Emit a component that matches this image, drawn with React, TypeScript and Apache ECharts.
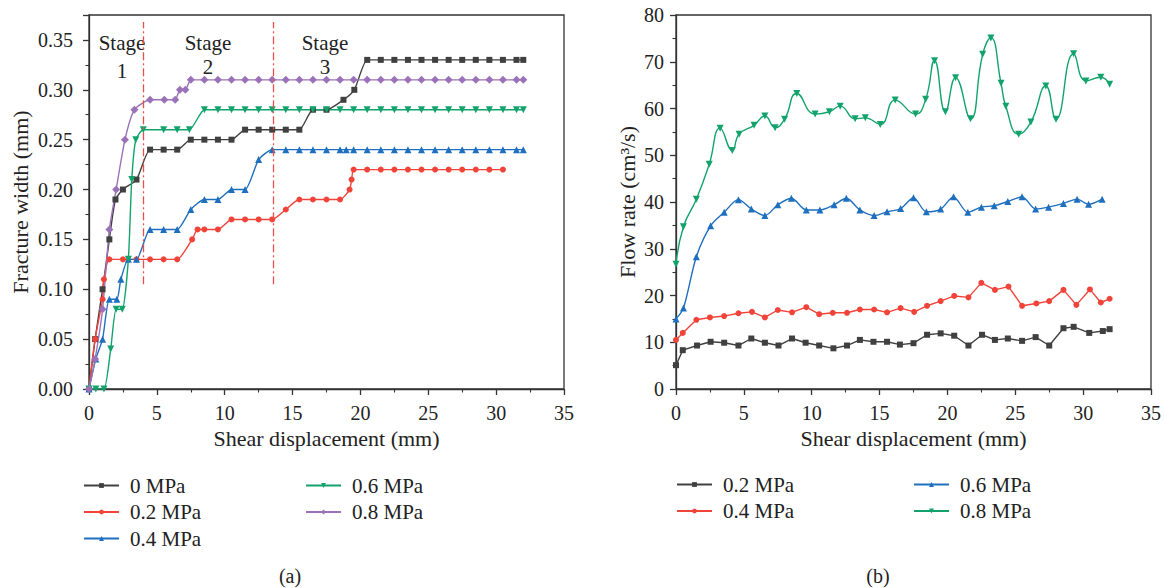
import React, { useEffect, useRef } from "react";
import * as echarts from "echarts";

// ---------- data (a): fracture width (mm) vs shear displacement (mm) ----------
const fw0MPa: [number, number][] = [
  [0, 0], [0.45, 0.05], [1, 0.1], [1.5, 0.15], [1.95, 0.19], [2.5, 0.2], [3.5, 0.21],
  [4.5, 0.24], [5.5, 0.24], [6.5, 0.24], [7.5, 0.25], [8.5, 0.25], [9.5, 0.25], [10.5, 0.25],
  [11.5, 0.26], [12.5, 0.26], [13.5, 0.26], [14.5, 0.26], [15.5, 0.26], [16.5, 0.28], [17.5, 0.28],
  [18.75, 0.29], [19.55, 0.3], [20.5, 0.33], [21.5, 0.33], [22.5, 0.33], [23.5, 0.33], [24.5, 0.33],
  [25.5, 0.33], [26.5, 0.33], [27.5, 0.33], [28.5, 0.33], [29.5, 0.33], [30.5, 0.33], [31.5, 0.33], [32, 0.33],
];
const fw02MPa: [number, number][] = [
  [0, 0], [0.45, 0.05], [1, 0.09], [1.1, 0.11], [1.5, 0.13], [2.5, 0.13], [3.5, 0.13], [4.5, 0.13],
  [5.5, 0.13], [6.5, 0.13], [7.6, 0.15], [8, 0.16], [8.5, 0.16], [9.5, 0.16], [10.5, 0.17], [11.5, 0.17],
  [12.5, 0.17], [13.5, 0.17], [14.5, 0.18], [15.5, 0.19], [16.5, 0.19], [17.5, 0.19], [18.5, 0.19],
  [19.2, 0.2], [19.35, 0.21], [19.5, 0.22], [20.5, 0.22], [21.5, 0.22], [22.5, 0.22], [23.5, 0.22],
  [24.5, 0.22], [25.5, 0.22], [26.5, 0.22], [27.5, 0.22], [28.5, 0.22], [29.5, 0.22], [30.5, 0.22],
];
const fw04MPa: [number, number][] = [
  [0, 0], [0.5, 0.03], [1, 0.05], [1.5, 0.09], [2.05, 0.09], [2.35, 0.11], [2.9, 0.13], [3.5, 0.13],
  [4.5, 0.16], [5.5, 0.16], [6.5, 0.16], [7.5, 0.18], [8.5, 0.19], [9.5, 0.19], [10.5, 0.2], [11.5, 0.2],
  [12.5, 0.23], [13.5, 0.24], [14.5, 0.24], [15.5, 0.24], [16.5, 0.24], [17.5, 0.24], [18.5, 0.24],
  [18.95, 0.24], [19.5, 0.24], [20.5, 0.24], [21.5, 0.24], [22.5, 0.24], [23.5, 0.24], [24.5, 0.24],
  [25.5, 0.24], [26.5, 0.24], [27.5, 0.24], [28.5, 0.24], [29.5, 0.24], [30.5, 0.24], [31.5, 0.24], [32, 0.24],
];
const fw06MPa: [number, number][] = [
  [0, 0], [0.5, 0], [1.1, 0], [1.6, 0.04], [2, 0.08], [2.45, 0.08], [2.9, 0.13], [3.15, 0.21],
  [3.45, 0.25], [4, 0.26], [5.5, 0.26], [6.5, 0.26], [7.4, 0.26], [8.5, 0.28], [9.5, 0.28], [10.5, 0.28],
  [11.5, 0.28], [12.5, 0.28], [13.5, 0.28], [14.5, 0.28], [15.5, 0.28], [16.5, 0.28], [17.5, 0.28],
  [18.5, 0.28], [19.5, 0.28], [20.5, 0.28], [21.5, 0.28], [22.5, 0.28], [23.5, 0.28], [24.5, 0.28],
  [25.5, 0.28], [26.5, 0.28], [27.5, 0.28], [28.5, 0.28], [29.5, 0.28], [30.5, 0.28], [31.5, 0.28], [32, 0.28],
];
const fw08MPa: [number, number][] = [
  [0, 0], [0.45, 0.03], [1, 0.08], [1.5, 0.16], [2, 0.2], [2.65, 0.25], [3.35, 0.28], [4.5, 0.29],
  [5.55, 0.29], [6.35, 0.29], [6.7, 0.3], [7.1, 0.3], [7.5, 0.31], [8.5, 0.31], [9.5, 0.31], [10.5, 0.31],
  [11.5, 0.31], [12.5, 0.31], [13.5, 0.31], [14.5, 0.31], [15.5, 0.31], [16.5, 0.31], [17.5, 0.31],
  [18.5, 0.31], [19.5, 0.31], [20.5, 0.31], [21.5, 0.31], [22.5, 0.31], [23.5, 0.31], [24.5, 0.31],
  [25.5, 0.31], [26.5, 0.31], [27.5, 0.31], [28.5, 0.31], [29.5, 0.31], [30.5, 0.31], [31.5, 0.31], [32, 0.31],
];
const stageBounds = [4, 13.6];
const stageLineRange = [0.105, 0.368];

// ---------- data (b): flow rate (cm3/s) vs shear displacement (mm) ----------
const fr02MPa: [number, number][] = [
  [0, 5.1], [0.5, 8.3], [1.55, 9.3], [2.55, 10.1], [3.55, 9.9], [4.6, 9.3], [5.55, 10.8], [6.55, 9.9],
  [7.55, 9.3], [8.55, 10.8], [9.55, 9.9], [10.55, 9.3], [11.6, 8.7], [12.6, 9.3], [13.55, 10.5],
  [14.55, 10.1], [15.55, 10.1], [16.5, 9.5], [17.5, 9.8], [18.5, 11.6], [19.5, 11.9], [20.5, 11.4],
  [21.55, 9.3], [22.55, 11.6], [23.5, 10.5], [24.45, 10.8], [25.5, 10.3], [26.5, 11.1], [27.5, 9.3],
  [28.55, 13.0], [29.3, 13.3], [30.45, 12.0], [31.45, 12.4], [31.95, 12.8],
];
const fr04MPa: [number, number][] = [
  [0, 10.5], [0.5, 12.0], [1.5, 14.8], [2.5, 15.3], [3.55, 15.6], [4.6, 16.2], [5.6, 16.5], [6.55, 15.3],
  [7.5, 16.9], [8.55, 16.4], [9.6, 17.5], [10.55, 16.0], [11.55, 16.3], [12.6, 16.3], [13.55, 17.0],
  [14.6, 17.0], [15.55, 16.4], [16.55, 17.3], [17.55, 16.5], [18.5, 17.8], [19.5, 18.8], [20.5, 19.9],
  [21.55, 19.6], [22.5, 22.7], [23.5, 21.2], [24.5, 21.9], [25.5, 17.8], [26.55, 18.3], [27.5, 18.8],
  [28.55, 21.2], [29.5, 18.0], [30.5, 21.3], [31.3, 18.5], [31.95, 19.3],
];
const fr06MPa: [number, number][] = [
  [0, 15.0], [0.55, 17.3], [1.5, 28.3], [2.55, 34.9], [3.55, 37.8], [4.6, 40.5], [5.55, 38.5],
  [6.55, 37.1], [7.5, 39.4], [8.5, 40.8], [9.6, 38.3], [10.6, 38.3], [11.65, 39.4], [12.55, 40.8],
  [13.55, 38.3], [14.6, 37.1], [15.55, 37.9], [16.55, 38.6], [17.5, 40.9], [18.45, 37.9], [19.5, 38.5],
  [20.45, 41.1], [21.5, 37.8], [22.5, 38.9], [23.45, 39.2], [24.45, 40.1], [25.5, 41.1], [26.5, 38.5],
  [27.45, 38.9], [28.55, 39.7], [29.55, 40.6], [30.4, 39.5], [31.4, 40.6],
];
const fr08MPa: [number, number][] = [
  [0, 26.7], [0.55, 34.7], [1.5, 40.6], [2.45, 48.1], [3.25, 55.8], [4.15, 51.0], [4.65, 54.5],
  [5.75, 56.4], [6.55, 58.4], [7.3, 55.9], [8.0, 57.7], [8.9, 63.2], [10.25, 58.8], [11.3, 59.3],
  [12.1, 60.5], [13.2, 57.8], [13.95, 58.0], [15.05, 56.6], [16.15, 61.8], [17.65, 58.8], [18.4, 62.0],
  [19.05, 70.2], [19.85, 59.3], [20.6, 66.6], [21.7, 57.8], [22.6, 71.6], [23.2, 75.1], [23.95, 65.4],
  [24.3, 60.5], [25.25, 54.5], [26.15, 57.1], [27.25, 64.8], [28.0, 57.7], [29.3, 71.7], [30.2, 65.9],
  [31.3, 66.7], [31.95, 65.2],
];

const namesA = ["0 MPa", "0.2 MPa", "0.4 MPa", "0.6 MPa", "0.8 MPa"];
const namesB = ["0.2 MPa", "0.4 MPa", "0.6 MPa", "0.8 MPa"];
const SEP = "|";
const idA = namesA.map((n) => "a" + SEP + n);
const idB = namesB.map((n) => "b" + SEP + n);

const FONT = "'Liberation Serif', 'DejaVu Serif', serif";
const C_BLACK = "#404040";
const C_RED = "#f0443a";
const C_BLUE = "#1f6fbf";
const C_GREEN = "#12a36c";
const C_PURPLE = "#9b72b8";
const AX = "#333333";
const TXT = "#222222";

function axisBase() {
  return {
    type: "value",
    axisLine: { show: true, onZero: false, lineStyle: { color: AX, width: 1.3 } },
    axisTick: { show: true, inside: false, length: 6, lineStyle: { color: AX, width: 1.3 } },
    minorTick: { show: true, splitNumber: 2, length: 3.5, lineStyle: { color: AX, width: 1.1 } },
    splitLine: { show: false },
    minorSplitLine: { show: false },
    axisLabel: { color: TXT, fontFamily: FONT, fontSize: 20, margin: 14 },
    nameTextStyle: { color: TXT, fontFamily: FONT, fontSize: 22 },
  };
}

function mkSeries(
  name: string,
  data: [number, number][],
  color: string,
  symbol: string,
  size: number,
  axisIndex: number,
  smooth: number,
  rotate = 0
): any {
  return {
    type: "line",
    name,
    data,
    xAxisIndex: axisIndex,
    yAxisIndex: axisIndex,
    symbol,
    symbolSize: size,
    symbolRotate: rotate,
    showAllSymbol: true,
    smooth,
    lineStyle: { color, width: 1.4 },
    itemStyle: { color, borderWidth: 0 },
    z: 3,
  };
}

function legendBlock(left: number, top: number, data: string[]): any {
  return {
    left,
    top,
    orient: "vertical",
    data,
    itemWidth: 35,
    itemHeight: 6,
    itemGap: 5.5,
    selectedMode: false,
    padding: 0,
    formatter: (n: string) => n.split(SEP).pop(),
    textStyle: { color: TXT, fontFamily: FONT, fontSize: 21, lineHeight: 20, padding: [0, 0, 0, 6] },
  };
}

export default function App() {
  const ref = useRef<HTMLDivElement>(null);
  useEffect(() => {
    document.body.style.margin = "0";
    if (!ref.current) return;
    const chart = echarts.init(ref.current, undefined, { renderer: "svg" });

    const xA: any = { ...axisBase(), gridIndex: 0, min: 0, max: 35, interval: 5, name: "Shear displacement (mm)", nameLocation: "middle", nameGap: 38 };
    const xB: any = { ...axisBase(), gridIndex: 1, min: 0, max: 35, interval: 5, name: "Shear displacement (mm)", nameLocation: "middle", nameGap: 38 };
    const yA: any = {
      ...axisBase(), gridIndex: 0, min: 0, max: 0.375, interval: 0.05,
      name: "Fracture width (mm)", nameLocation: "middle", nameGap: 58,
      axisLabel: { ...axisBase().axisLabel, margin: 16, showMaxLabel: false, formatter: (v: number) => v.toFixed(2) },
    };
    const yB: any = {
      ...axisBase(), gridIndex: 1, min: 0, max: 80, interval: 10,
      name: "Flow rate (cm³/s)", nameLocation: "middle", nameGap: 38,
      axisLabel: { ...axisBase().axisLabel, margin: 12 },
    };

    const sA = [
      mkSeries(idA[0], fw0MPa, C_BLACK, "rect", 6, 0, 0.2),
      mkSeries(idA[1], fw02MPa, C_RED, "circle", 6, 0, 0.2),
      mkSeries(idA[2], fw04MPa, C_BLUE, "triangle", 7, 0, 0.2),
      mkSeries(idA[3], fw06MPa, C_GREEN, "triangle", 7, 0, 0.2, 180),
      mkSeries(idA[4], fw08MPa, C_PURPLE, "diamond", 8, 0, 0.2),
    ];
    sA[0].markLine = {
      silent: true,
      symbol: "none",
      label: { show: false },
      lineStyle: { color: "#e8514a", width: 1.3, type: [8, 3, 2, 3] },
      data: stageBounds.map((b) => [
        { coord: [b, stageLineRange[0]] },
        { coord: [b, stageLineRange[1]] },
      ]),
    };
    const sB = [
      mkSeries(idB[0], fr02MPa, C_BLACK, "rect", 6, 1, 0),
      mkSeries(idB[1], fr04MPa, C_RED, "circle", 6, 1, 0),
      mkSeries(idB[2], fr06MPa, C_BLUE, "triangle", 7, 1, 0.3),
      mkSeries(idB[3], fr08MPa, C_GREEN, "triangle", 7, 1, 0.5, 180),
    ];

    const txt = (x: number, y: number, t: string, size = 21) => ({
      type: "text",
      x,
      y,
      style: { text: t, fill: TXT, font: `${size}px ${FONT}`, align: "center", verticalAlign: "middle" },
    });

    chart.setOption({
      animation: false,
      backgroundColor: "#ffffff",
      grid: [
        { left: 89, top: 15, width: 475, height: 374, show: true, borderColor: AX, borderWidth: 1.3, backgroundColor: "transparent" },
        { left: 676, top: 15, width: 475, height: 374, show: true, borderColor: AX, borderWidth: 1.3, backgroundColor: "transparent" },
      ],
      xAxis: [xA, xB],
      yAxis: [yA, yB],
      legend: [
        legendBlock(83, 475, idA.slice(0, 3)),
        legendBlock(305, 475, idA.slice(3)),
        legendBlock(676, 474, idB.slice(0, 2)),
        legendBlock(913, 474, idB.slice(2)),
      ],
      series: [...sA, ...sB],
      graphic: [
        txt(122, 43, "Stage"),
        txt(122, 71, "1"),
        txt(208, 43, "Stage"),
        txt(208, 67, "2"),
        txt(325, 43, "Stage"),
        txt(325, 67, "3"),
        txt(290, 576, "(a)", 20),
        txt(878, 576, "(b)", 20),
      ],
    });
    return () => chart.dispose();
  }, []);
  return <div ref={ref} style={{ width: 1165, height: 588 }} />;
}
